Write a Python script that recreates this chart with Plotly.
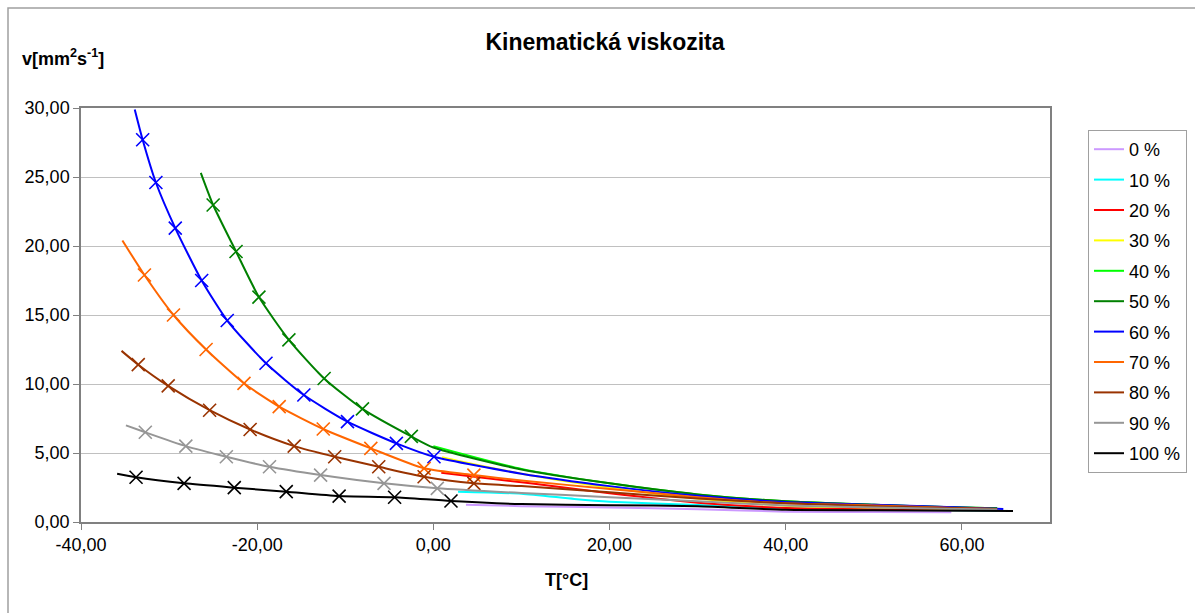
import plotly.graph_objects as go

# ---------------- data ----------------
series_names = ["0 %", "10 %", "20 %", "30 %", "40 %", "50 %", "60 %", "70 %", "80 %", "90 %", "100 %"]
series_colors = ["#cc99ff", "#00ffff", "#ff0000", "#ffff00", "#00ff00", "#008000",
                 "#0000ff", "#ff6600", "#993300", "#969696", "#000000"]

# line points (temperature T [°C], kinematic viscosity v [mm2/s])
T_0 = [3.7, 10, 20, 30, 40, 50, 58.8]
v_0 = [1.25, 1.15, 1.05, 0.92, 0.75, 0.72, 0.70]
T_10 = [2.8, 10, 16, 20, 30, 40, 50, 60, 64]
v_10 = [2.20, 2.05, 1.67, 1.47, 1.23, 1.00, 0.92, 0.86, 0.84]
T_20 = [0.9, 11, 20, 30, 40, 50, 60, 64]
v_20 = [3.57, 2.80, 2.08, 1.40, 1.02, 0.95, 0.90, 0.88]
T_30 = [1.0, 3.0, 10, 20, 30, 40, 50, 60, 64]
v_30 = [4.70, 4.40, 3.50, 2.50, 1.70, 1.18, 1.05, 0.95, 0.92]
T_40 = [0.0, 10, 20, 30, 40, 50, 60, 64]
v_40 = [5.50, 3.85, 2.80, 2.00, 1.50, 1.25, 1.05, 1.00]
T_50 = [-26.4, -25.0, -22.4, -19.8, -16.4, -12.4, -8.05, -2.5, 0, 10, 20, 30, 40, 50, 60, 64]
v_50 = [25.3, 22.97, 19.6, 16.3, 13.2, 10.4, 8.2, 6.2, 5.4, 3.8, 2.8, 2.0, 1.5, 1.25, 1.05, 1.0]
T_60 = [-33.9, -33.0, -31.5, -29.3, -26.3, -23.4, -19.0, -14.7, -9.75, -4.2, 0.07, 10, 20, 30, 40, 50, 60, 64.7]
v_60 = [29.9, 27.7, 24.6, 21.3, 17.5, 14.6, 11.5, 9.2, 7.27, 5.7, 4.73, 3.5, 2.6, 1.9, 1.45, 1.25, 1.05, 0.95]
T_70 = [-35.3, -32.8, -29.5, -25.8, -21.5, -17.5, -12.5, -7.1, -1.05, 4.6, 10, 20, 30, 40, 50, 60, 64]
v_70 = [20.4, 17.9, 15.0, 12.5, 10.05, 8.36, 6.74, 5.34, 3.89, 3.4, 3.0, 2.4, 1.8, 1.35, 1.2, 1.0, 0.95]
T_80 = [-35.4, -33.5, -30.1, -25.4, -20.8, -15.8, -11.2, -6.2, -1.05, 4.6, 10, 20, 30, 40, 50, 60, 64]
v_80 = [12.4, 11.4, 9.86, 8.1, 6.7, 5.5, 4.73, 4.0, 3.28, 2.8, 2.6, 2.15, 1.7, 1.35, 1.15, 1.0, 0.95]
T_90 = [-34.9, -32.7, -28.1, -23.5, -18.6, -12.8, -5.6, 0.45, 10, 20, 30, 40, 50, 60, 64]
v_90 = [7.0, 6.5, 5.5, 4.73, 4.0, 3.4, 2.8, 2.44, 2.1, 1.8, 1.5, 1.2, 1.05, 0.95, 0.9]
T_100 = [-35.9, -33.75, -28.3, -22.6, -16.7, -10.7, -4.4, 2.0, 10, 20, 30, 40, 50, 60, 65.8]
v_100 = [3.5, 3.24, 2.8, 2.49, 2.2, 1.88, 1.79, 1.52, 1.3, 1.22, 1.15, 0.88, 0.85, 0.82, 0.8]

# marker points (X symbols) for 50 % .. 100 %
mT_50 = [-25.0, -22.4, -19.8, -16.4, -12.4, -8.05, -2.5]
mv_50 = [22.97, 19.6, 16.3, 13.2, 10.4, 8.2, 6.2]
mT_60 = [-33.0, -31.5, -29.3, -26.3, -23.4, -19.0, -14.7, -9.75, -4.2, 0.07]
mv_60 = [27.7, 24.6, 21.3, 17.5, 14.6, 11.5, 9.2, 7.27, 5.7, 4.73]
mT_70 = [-32.8, -29.5, -25.8, -21.5, -17.5, -12.5, -7.1, -1.05, 4.6]
mv_70 = [17.9, 15.0, 12.5, 10.05, 8.36, 6.74, 5.34, 3.89, 3.4]
mT_80 = [-33.5, -30.1, -25.4, -20.8, -15.8, -11.2, -6.2, -1.05, 4.6]
mv_80 = [11.4, 9.86, 8.1, 6.7, 5.5, 4.73, 4.0, 3.28, 2.8]
mT_90 = [-32.7, -28.1, -23.5, -18.6, -12.8, -5.6, 0.45]
mv_90 = [6.5, 5.5, 4.73, 4.0, 3.4, 2.8, 2.44]
mT_100 = [-33.75, -28.3, -22.6, -16.7, -10.7, -4.4, 2.0]
mv_100 = [3.24, 2.8, 2.49, 2.2, 1.88, 1.79, 1.52]

x_ticks = [-40, -20, 0, 20, 40, 60]
y_ticks = [0, 5, 10, 15, 20, 25, 30]


def fmt(v):
    return f"{v:.2f}".replace(".", ",")


line_T = [T_0, T_10, T_20, T_30, T_40, T_50, T_60, T_70, T_80, T_90, T_100]
line_v = [v_0, v_10, v_20, v_30, v_40, v_50, v_60, v_70, v_80, v_90, v_100]
mark_T = [None, None, None, None, None, mT_50, mT_60, mT_70, mT_80, mT_90, mT_100]
mark_v = [None, None, None, None, None, mv_50, mv_60, mv_70, mv_80, mv_90, mv_100]

FONT = "Liberation Sans, Arial, sans-serif"

fig = go.Figure()
for i, name in enumerate(series_names):
    fig.add_trace(go.Scatter(
        x=line_T[i], y=line_v[i], mode="lines", name=name,
        line=dict(color=series_colors[i], width=2, shape="spline", smoothing=0.6),
        legendgroup=name, showlegend=True,
    ))
    if mark_T[i] is not None:
        fig.add_trace(go.Scatter(
            x=mark_T[i], y=mark_v[i], mode="markers", name=name,
            marker=dict(symbol="x-thin-open", size=13, color=series_colors[i],
                        line=dict(color=series_colors[i], width=1.6)),
            legendgroup=name, showlegend=False,
        ))

L, R, T, B = 81, 1050, 108, 522
W, H = 1195, 613
pw, ph = R - L, B - T

fig.update_layout(
    width=W, height=H,
    margin=dict(l=L, r=W - R, t=T, b=H - B, autoexpand=False),
    paper_bgcolor="white", plot_bgcolor="white",
    font=dict(family=FONT, size=18, color="#000000"),
    title=dict(text="<b>Kinematická viskozita</b>", x=605 / W, xanchor="center",
               y=1 - 42 / H, yanchor="middle", font=dict(size=23, family=FONT)),
    xaxis=dict(range=[-40, 70], tickvals=x_ticks, ticktext=[fmt(v) for v in x_ticks],
               showgrid=False, zeroline=False,
               showline=True, linecolor="#808080", linewidth=1.5, mirror=True,
               ticks="outside", ticklen=6, tickcolor="#808080",
               tickfont=dict(size=18)),
    yaxis=dict(range=[0, 30], tickvals=y_ticks, ticktext=[fmt(v) for v in y_ticks],
               showgrid=True, gridcolor="#c0c0c0", gridwidth=1, zeroline=False,
               showline=True, linecolor="#808080", linewidth=1.5, mirror=True,
               ticks="outside", ticklen=6, tickcolor="#808080",
               tickfont=dict(size=18)),
    legend=dict(x=(1088 - L) / pw, y=(B - 130) / ph, xanchor="left", yanchor="top",
                bgcolor="white", bordercolor="#a0a0a0", borderwidth=1,
                font=dict(size=18, family=FONT), tracegroupgap=4,
                itemwidth=30),
    annotations=[
        dict(text="<b>v[mm<sup>2</sup>s<sup>-1</sup>]</b>", xref="paper", yref="paper",
             x=(20 - L) / pw, y=(B - 58) / ph, xanchor="left", yanchor="middle",
             showarrow=False, font=dict(size=18, family=FONT)),
        dict(text="<b>T[°C]</b>", xref="paper", yref="paper",
             x=(566 - L) / pw, y=(B - 580) / ph, xanchor="center", yanchor="middle",
             showarrow=False, font=dict(size=18, family=FONT)),
    ],
    shapes=[
        dict(type="rect", xref="paper", yref="paper",
             x0=(8 - L) / pw, x1=(1300 - L) / pw, y0=(B - 700) / ph, y1=(B - 8) / ph,
             line=dict(color="#a0a0a0", width=1.5), fillcolor="rgba(0,0,0,0)", layer="below"),
    ],
)

fig.write_html("out.html", config={"displayModeBar": False},
               post_script="document.body.style.margin='0';document.body.style.padding='0';")
